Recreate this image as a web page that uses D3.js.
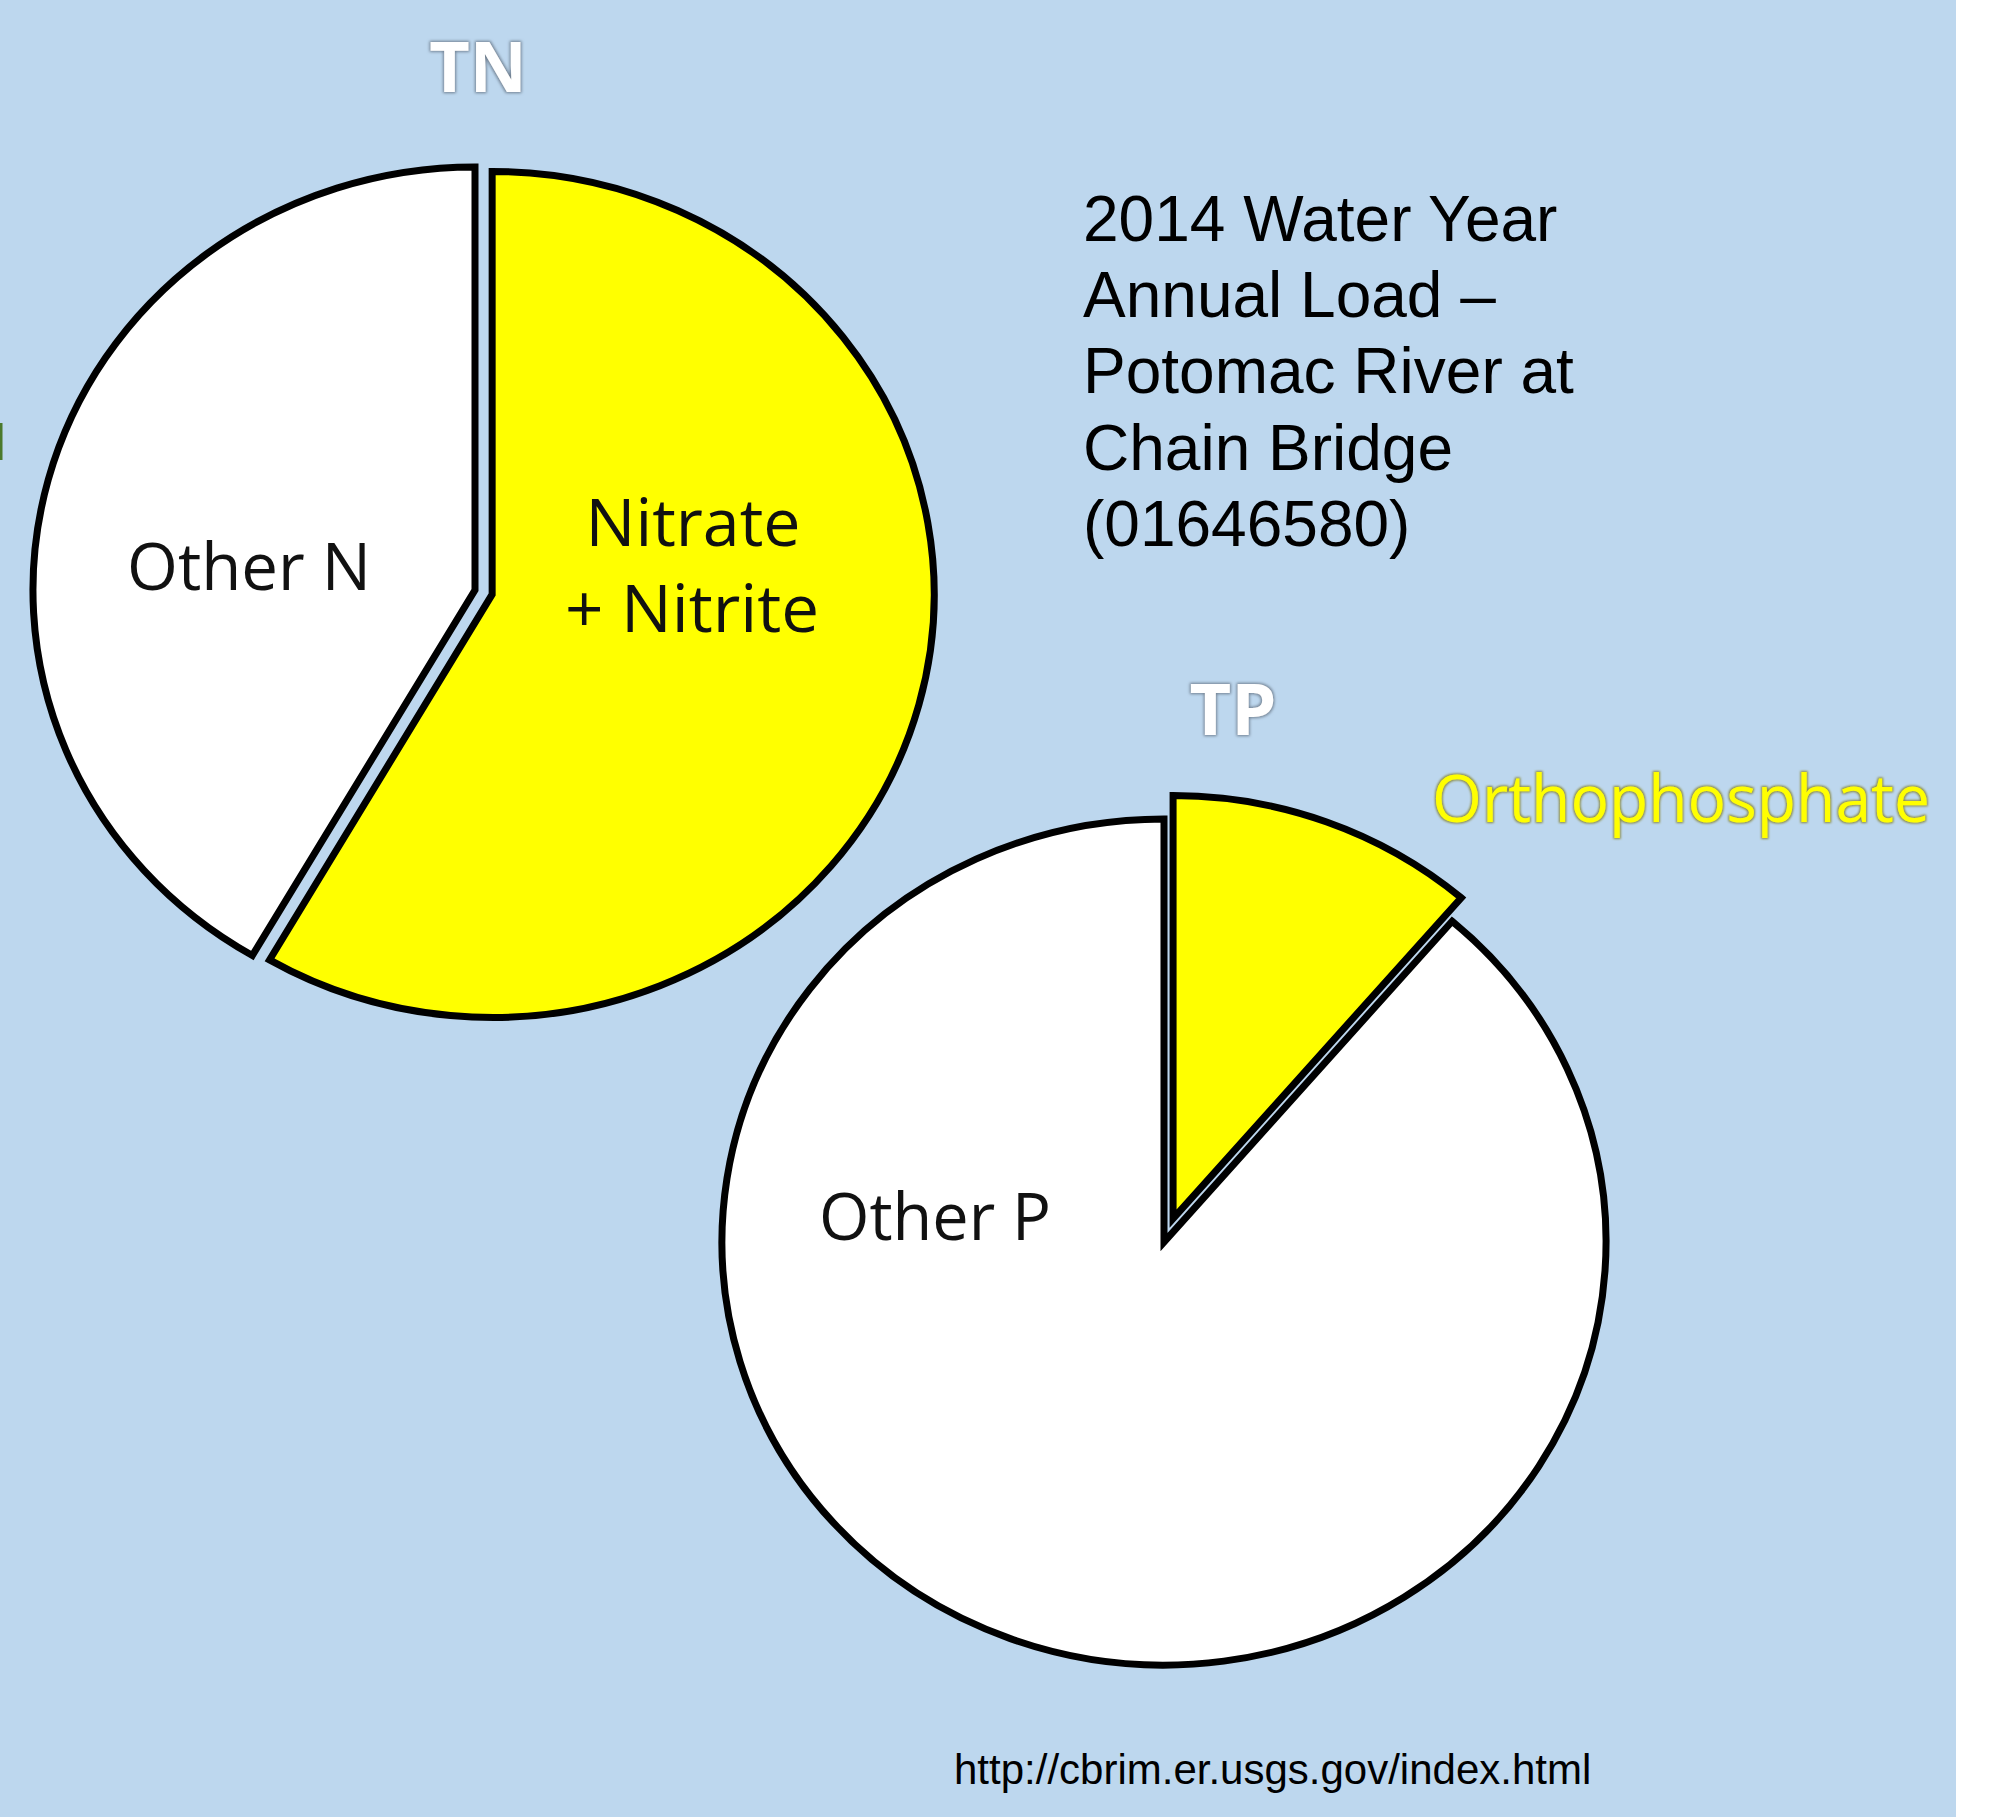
<!DOCTYPE html>
<html>
<head>
<meta charset="utf-8">
<script src="https://cdn.jsdelivr.net/npm/d3@7"></script>
<style>
  body { margin: 0; background: #bdd7ee; }
  svg { display: block; }
</style>
</head>
<body>
<div id="chart"></div>
<script>
// values (percent of annual load)
var tnLabels = ["Nitrate + Nitrite", "Other N"];
var tnValues = [58.4, 41.6];
var tpLabels = ["Orthophosphate", "Other P"];
var tpValues = [11.3, 88.7];
var sliceColors = ["#ffff00", "#ffffff"];
var titleLines = ["2014 Water Year", "Annual Load \u2013", "Potomac River at", "Chain Bridge", "(01646580)"];
var sourceUrl = "http://cbrim.er.usgs.gov/index.html";

var width = 1990,
    height = 1817;

var svg = d3.select("#chart").append("svg")
    .attr("width", width)
    .attr("height", height);

var defs = svg.append("defs");
function glow(id, color, sd) {
  var f = defs.append("filter").attr("id", id)
      .attr("x", "-20%").attr("y", "-20%").attr("width", "140%").attr("height", "140%");
  f.append("feMorphology").attr("in", "SourceAlpha").attr("operator", "dilate").attr("radius", 1).attr("result", "d");
  f.append("feGaussianBlur").attr("in", "d").attr("stdDeviation", sd).attr("result", "b");
  f.append("feFlood").attr("flood-color", color).attr("result", "c");
  f.append("feComposite").attr("in", "c").attr("in2", "b").attr("operator", "in").attr("result", "s");
  var m = f.append("feMerge");
  m.append("feMergeNode").attr("in", "s");
  m.append("feMergeNode").attr("in", "SourceGraphic");
}
glow("greyGlow", "#6f7f90", 1.6);
glow("darkGlow", "#8a8a40", 1.0);

svg.append("rect")
    .attr("width", width).attr("height", height)
    .attr("fill", "#bdd7ee");
// strip of white at the right edge of the slide
svg.append("rect")
    .attr("x", 1956).attr("width", width - 1956).attr("height", height)
    .attr("fill", "#ffffff");
// clipped fragment at far left
svg.append("rect")
    .attr("x", 0).attr("y", 423).attr("width", 2.5).attr("height", 37)
    .attr("fill", "#4b7a2c");

var radius = 423,
    stretch = 1.045;

var pie = d3.pie().sort(null).value(function(d) { return d; });
var arc = d3.arc().innerRadius(0).outerRadius(radius);

function drawPie(values, cx, cy, explode) {
  var g = svg.append("g")
      .attr("transform", "translate(" + cx + "," + cy + ") scale(" + stretch + ",1)");
  g.selectAll("path")
    .data(pie(values))
    .enter()
    .append("path")
    .attr("d", arc)
    .attr("transform", function(d, i) {
        var a = (d.startAngle + d.endAngle) / 2;
        var e = explode[i];
        return "translate(" + (Math.sin(a) * e) + "," + (-Math.cos(a) * e) + ")";
    })
    .attr("fill", function(d, i) { return sliceColors[i]; })
    .attr("stroke", "#000")
    .attr("stroke-width", 7)
    .attr("stroke-linejoin", "miter")
    .attr("vector-effect", "non-scaling-stroke");
}

drawPie(tnValues, 475, 590, [17, 0]);
drawPie(tpValues, 1164, 1242, [25, 0]);

var labelFont = "'Open Sans', 'DejaVu Sans', sans-serif";

// pie headings
svg.append("text")
    .attr("x", 478).attr("y", 92)
    .attr("text-anchor", "middle")
    .attr("font-family", labelFont).attr("font-weight", "bold").attr("font-size", 70)
    .attr("fill", "#ffffff")
    .attr("filter", "url(#greyGlow)")
    .text("TN");
svg.append("text")
    .attr("x", 1233).attr("y", 735)
    .attr("text-anchor", "middle")
    .attr("font-family", labelFont).attr("font-weight", "bold").attr("font-size", 72)
    .attr("fill", "#ffffff")
    .attr("filter", "url(#greyGlow)")
    .text("TP");

// slice labels
function label(txt, x, y, len, anchor) {
  return svg.append("text")
      .attr("x", x).attr("y", y)
      .attr("text-anchor", anchor || "middle")
      .attr("font-family", labelFont).attr("font-size", 65).attr("fill", "#111")
      .attr("textLength", len).attr("lengthAdjust", "spacingAndGlyphs")
      .text(txt);
}
var nitrate = tnLabels[0].split(" + ");
label(nitrate[0], 693, 546, 215);
label("+ " + nitrate[1], 692, 632, 254);
label(tnLabels[1], 249, 590, 244);
label(tpLabels[1], 935, 1240, 232);
label(tpLabels[0], 1432, 822, 498, "start")
    .attr("fill", "#ffff00")
    .attr("filter", "url(#darkGlow)");

// title block
svg.append("g").selectAll("text")
    .data(titleLines)
    .enter()
    .append("text")
    .attr("x", 1083)
    .attr("y", function(d, i) { return 241 + i * 76.2; })
    .attr("font-family", "'Liberation Sans', Arial, sans-serif")
    .attr("font-size", 64)
    .attr("fill", "#000")
    .text(function(d) { return d; });

svg.append("text")
    .attr("x", 954).attr("y", 1784)
    .attr("font-family", "'Liberation Sans', Arial, sans-serif")
    .attr("font-size", 42)
    .attr("fill", "#000")
    .text(sourceUrl);
</script>
</body>
</html>
